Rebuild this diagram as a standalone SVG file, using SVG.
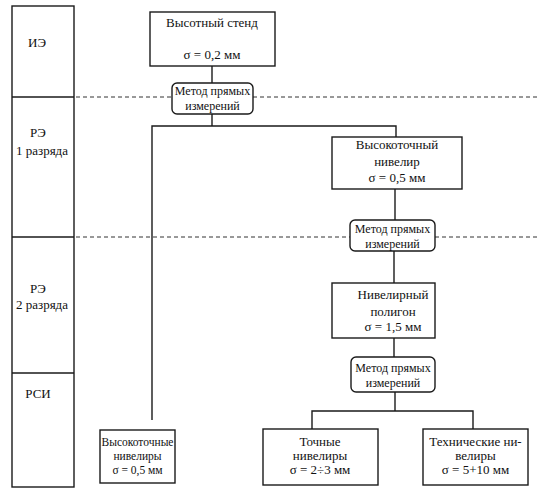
<svg xmlns="http://www.w3.org/2000/svg" width="537" height="491" viewBox="0 0 537 491">
<style>
.box{fill:#fff;stroke:#1a1a1a;stroke-width:1.4}
.ln{fill:none;stroke:#1a1a1a;stroke-width:1.4}
.dash{fill:none;stroke:#333;stroke-width:1;stroke-dasharray:4,3}
text{font-family:"Liberation Serif","DejaVu Serif",serif;fill:#111;text-anchor:middle}
.t13{font-size:13px}
.t12{font-size:12px}
.t10{font-size:11.5px}
</style>
<rect width="537" height="491" fill="#fff"/>
<g id="levels">
<rect class="box" x="12" y="6" width="62" height="481"/>
<line class="ln" x1="12" y1="97" x2="74" y2="97"/>
<line class="ln" x1="12" y1="237" x2="74" y2="237"/>
<line class="ln" x1="12" y1="373" x2="74" y2="373" stroke-width="1"/>
<text class="t13" x="37" y="47">ИЭ</text>
<text class="t13" x="38" y="137">РЭ</text>
<text class="t13" x="42" y="155">1 разряда</text>
<text class="t13" x="38" y="293">РЭ</text>
<text class="t13" x="42" y="309">2 разряда</text>
<text class="t13" x="38" y="398">РСИ</text>
</g>
<g id="separators">
<line class="dash" x1="76" y1="97" x2="172" y2="97"/>
<line class="dash" x1="253" y1="97" x2="537" y2="97"/>
<line class="dash" x1="76" y1="237" x2="350" y2="237"/>
<line class="dash" x1="435" y1="237" x2="537" y2="237"/>
</g>
<g id="connectors">
<line class="ln" x1="212" y1="66" x2="212" y2="83"/>
<polyline class="ln" points="212,114 212,126"/>
<polyline class="ln" points="152,420 152,126 396,126 396,137"/>
<line class="ln" x1="395" y1="189" x2="395" y2="220"/>
<line class="ln" x1="394" y1="251" x2="394" y2="283"/>
<line class="ln" x1="394" y1="338" x2="394" y2="357"/>
<line class="ln" x1="395" y1="392" x2="395" y2="411"/>
<polyline class="ln" points="312,429 312,411 473,411 473,429"/>
</g>
<g id="stand">
<rect class="box" x="150" y="12" width="125" height="54"/>
<text class="t13" x="212" y="27">Высотный стенд</text>
<text class="t13" x="212" y="59">σ = 0,2 мм</text>
</g>
<g id="method1">
<rect class="box" x="172" y="83" width="81" height="31" rx="5"/>
<text class="t12" x="212.5" y="95">Метод прямых</text>
<text class="t12" x="212.5" y="110">измерений</text>
</g>
<g id="hp-level">
<rect class="box" x="332" y="137" width="130" height="52"/>
<text class="t13" x="397" y="149">Высокоточный</text>
<text class="t13" x="397" y="166">нивелир</text>
<text class="t13" x="397" y="182">σ = 0,5 мм</text>
</g>
<g id="method2">
<rect class="box" x="350" y="220" width="85" height="31" rx="5"/>
<text class="t12" x="392.5" y="233">Метод прямых</text>
<text class="t12" x="392.5" y="248">измерений</text>
</g>
<g id="polygon">
<rect class="box" x="332" y="283" width="103" height="55"/>
<text class="t13" x="393" y="299">Нивелирный</text>
<text class="t13" x="393" y="316">полигон</text>
<text class="t13" x="393" y="331">σ = 1,5 мм</text>
</g>
<g id="method3">
<rect class="box" x="351" y="357" width="84" height="35" rx="5"/>
<text class="t12" x="393" y="372">Метод прямых</text>
<text class="t12" x="393" y="387">измерений</text>
</g>
<g id="hp-levels">
<rect class="box" x="100" y="430" width="75" height="53"/>
<text class="t10" x="137.5" y="446">Высокоточные</text>
<text class="t10" x="137.5" y="460">нивелиры</text>
<text class="t10" x="137.5" y="474">σ = 0,5 мм</text>
</g>
<g id="precise-levels">
<rect class="box" x="263" y="429" width="115" height="56"/>
<text class="t13" x="320" y="446">Точные</text>
<text class="t13" x="320" y="460">нивелиры</text>
<text class="t13" x="320" y="474">σ = 2÷3 мм</text>
</g>
<g id="tech-levels">
<rect class="box" x="423" y="429" width="105" height="56"/>
<text class="t13" x="475.5" y="446">Технические ни-</text>
<text class="t13" x="475.5" y="460">велиры</text>
<text class="t13" x="475.5" y="474">σ = 5+10 мм</text>
</g>
</svg>
